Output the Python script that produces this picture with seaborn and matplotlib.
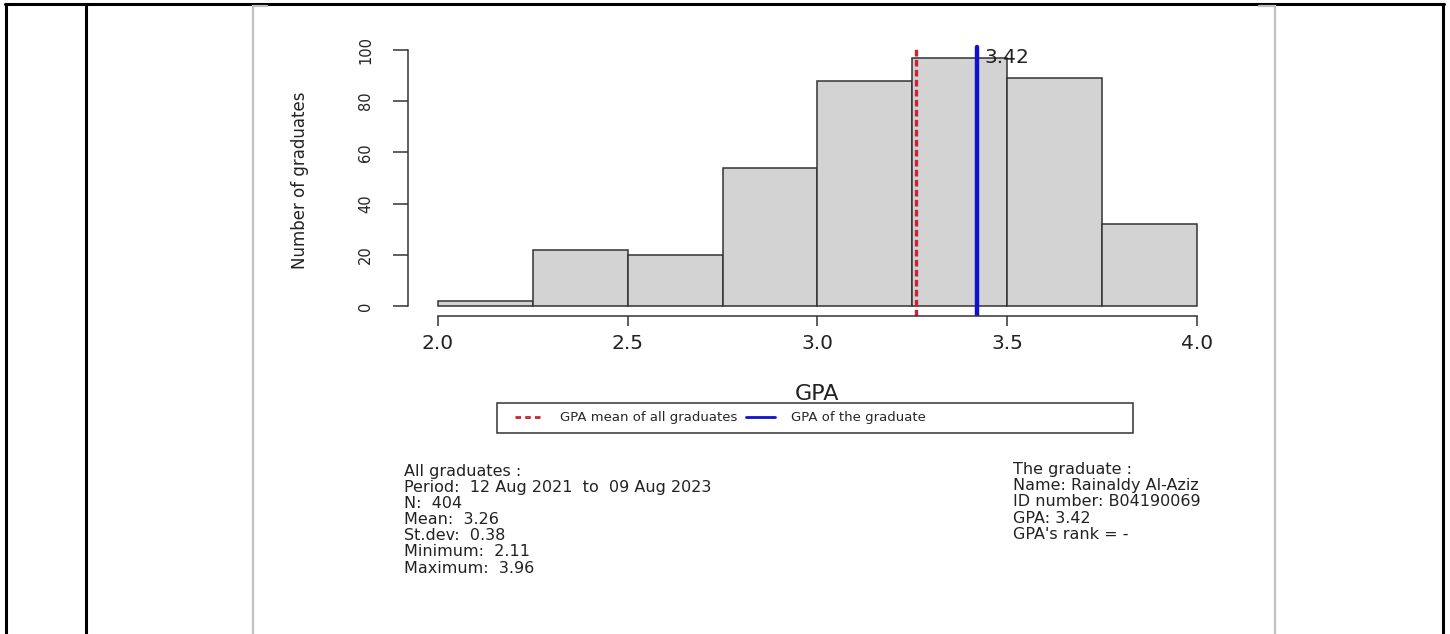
import numpy as np
import pandas as pd
import seaborn as sns
import matplotlib.pyplot as plt
from matplotlib.lines import Line2D
from matplotlib.patches import Rectangle

# histogram of graduate GPAs (bin edges and counts)
bin_edges = [2.0, 2.25, 2.5, 2.75, 3.0, 3.25, 3.5, 3.75, 4.0]
counts = [2, 22, 20, 54, 88, 97, 89, 32]
gpa_mean = 3.26
gpa_graduate = 3.42
x_ticks = [2.0, 2.5, 3.0, 3.5, 4.0]
y_ticks = [0, 20, 40, 60, 80, 100]

legend_labels = ['GPA mean of all graduates', 'GPA of the graduate']
info_all = ['All graduates :',
            'Period:  12 Aug 2021  to  09 Aug 2023',
            'N:  404',
            'Mean:  3.26',
            'St.dev:  0.38',
            'Minimum:  2.11',
            'Maximum:  3.96']
info_grad = ['The graduate :',
             'Name: Rainaldy Al-Aziz',
             'ID number: B04190069',
             'GPA: 3.42',
             "GPA's rank = -"]

sns.set_style('white')
plt.rcParams['font.family'] = ['DejaVu Sans']

W, H = 1450, 634
fig = plt.figure(figsize=(W / 100, H / 100), dpi=100)
ax = fig.add_axes([408 / W, 1 - 316 / H, (1230 - 408) / W, (316 - 30) / H])

df = pd.DataFrame({'gpa': [(a + b) / 2 for a, b in zip(bin_edges[:-1], bin_edges[1:])],
                   'n': counts})
sns.histplot(data=df, x='gpa', weights='n', bins=bin_edges, color='#d3d3d3',
             edgecolor='#333333', linewidth=1.1, alpha=1, ax=ax)

ax.set_xlim(1.921, 4.087)
ax.set_ylim(-3.9, 107.8)
ax.set_xticks(x_ticks)
ax.set_yticks(y_ticks)
ax.set_xticklabels([f'{t:.1f}' for t in x_ticks], fontsize=14.5, color='#222222')
ax.set_yticklabels([str(t) for t in y_ticks], fontsize=10.5, color='#222222',
                   rotation=90, va='center')
for s in ['top', 'right']:
    ax.spines[s].set_visible(False)
ax.spines['left'].set_bounds(0, 100)
ax.spines['bottom'].set_bounds(2.0, 4.0)
for s in ['left', 'bottom']:
    ax.spines[s].set_color('#333333')
    ax.spines[s].set_linewidth(1.1)
ax.tick_params(axis='x', direction='out', length=7, width=1.1, color='#333333', pad=6, bottom=True)
ax.tick_params(axis='y', direction='out', length=11, width=1.1, color='#333333', pad=14, left=True)

ax.set_xlabel('GPA', fontsize=16, color='#222222', va='center')
ax.xaxis.set_label_coords(0.4976, -0.273)
ax.set_ylabel('Number of graduates', fontsize=12, color='#222222', va='center')
ax.yaxis.set_label_coords(-0.131, 0.475)

ax.axvline(gpa_mean, ymin=0, ymax=0.937, color='#cc2233', lw=2.4, linestyle=(0, (2, 1)))
ax.axvline(gpa_graduate, ymin=0, ymax=0.94, color='#1111cc', lw=3.2)
ax.text(gpa_graduate + 0.02, 97, f'{gpa_graduate:.2f}', fontsize=14.5, color='#222222',
        va='center', ha='left')

handles = [Line2D([], [], color='#cc2233', lw=2, linestyle=(0, (2, 1.5))),
           Line2D([], [], color='#1111cc', lw=2)]
fig.legend(handles, legend_labels, ncol=2, loc='center left', frameon=False,
           bbox_to_anchor=(503 / W, 1 - 418 / H), fontsize=9.5,
           handlelength=2.2, handletextpad=1.2, columnspacing=0.7)
fig.add_artist(Rectangle((497 / W, 1 - 433 / H), (1133 - 497) / W, 30 / H,
                         transform=fig.transFigure, fill=False,
                         edgecolor='#333333', lw=1.1))

# summary text blocks, one line every ~16 px
for i, line in enumerate(info_all):
    fig.text(404 / W, 1 - (476 + 16.1 * i) / H, line, fontsize=11.5, color='#222222',
             va='baseline', ha='left')
for i, line in enumerate(info_grad):
    fig.text(1013 / W, 1 - (474 + 16.2 * i) / H, line, fontsize=11.5, color='#222222',
             va='baseline', ha='left')

# page borders around the chart
for x in [6, 86, 1443]:
    fig.add_artist(Line2D([x / W, x / W], [0, 1 - 3.5 / H], transform=fig.transFigure,
                          color='black', lw=2.2))
fig.add_artist(Line2D([5 / W, 1444 / W], [1 - 3.5 / H, 1 - 3.5 / H],
                      transform=fig.transFigure, color='black', lw=2.2))
for x, x2 in [(253, 267), (1275, 1259)]:
    fig.add_artist(Line2D([x / W, x / W], [0, 1 - 5.5 / H], transform=fig.transFigure,
                          color='#c0c0c0', lw=1.6))
    fig.add_artist(Line2D([x / W, x2 / W], [1 - 5.5 / H, 1 - 5.5 / H],
                          transform=fig.transFigure, color='#c0c0c0', lw=1.6))

fig.savefig('out.png', dpi=100)
